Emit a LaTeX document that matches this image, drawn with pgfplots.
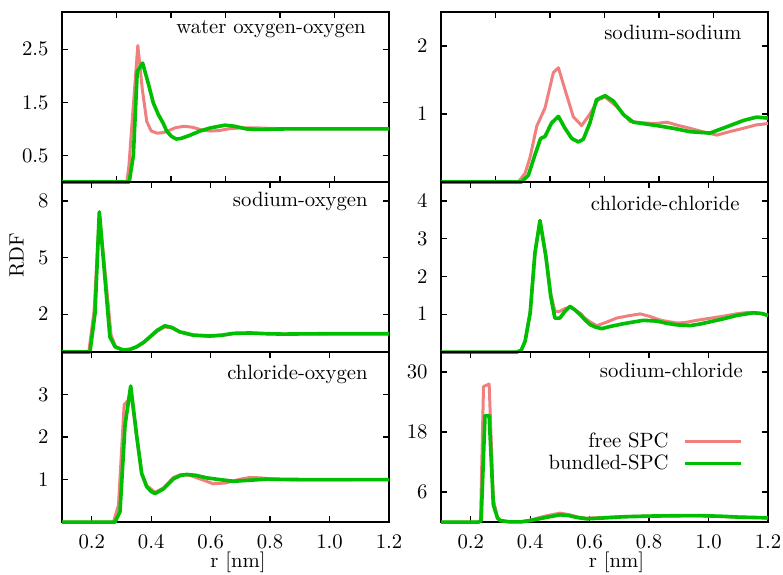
\documentclass[border=0pt]{standalone}
\usepackage{pgfplots}
\pgfplotsset{compat=1.18}
\usepgfplotslibrary{groupplots}
\usetikzlibrary{calc}
\definecolor{freered}{RGB}{240,128,128}
\definecolor{bundgreen}{RGB}{0,190,0}
\pgfplotsset{
  freestyle/.style={color=freered, line width=1.45pt, line join=round, mark=none},
  bundstyle/.style={color=bundgreen, line width=1.75pt, line join=round, mark=none},
}
\tikzset{paneltitle/.style={anchor=base east, inner sep=0pt}}
\begin{document}
\begin{tikzpicture}
\begin{groupplot}[
  group style={group size=2 by 3, horizontal sep=25.1pt, vertical sep=0pt},
  width=157.9pt, height=82.1pt, scale only axis,
  xmin=0.1, xmax=1.2, ymin=0, clip=false,
  axis line style={line width=0.7pt},
  tick style={line width=0.6pt, black},
  major tick length=2.8pt,
  tick align=inside,
  yticklabel style={xshift=-3pt},
  xticklabel style={yshift=-3pt, /pgf/number format/.cd, fixed, fixed zerofill, precision=1},
]
% ---------- row 1 left: water oxygen-oxygen
\nextgroupplot[ymax=3.2, ytick={0.5,1.5,2.5},
  yticklabel style={/pgf/number format/.cd, fixed, fixed zerofill, precision=1},
  xtick={0.283333,0.466667,0.65,0.833333,1.016667}, xticklabels={}]
\addplot[freestyle] coordinates {(0.1,0) (0.318,0) (0.325,0.3) (0.338,1.3) (0.355,2.57) (0.37,1.75) (0.385,1.14) (0.4,0.96) (0.42,0.92) (0.44,0.93) (0.46,0.97) (0.48,1.02) (0.51,1.05) (0.54,1.03) (0.57,0.98) (0.6,0.96) (0.63,0.97) (0.66,1.0) (0.7,1.02) (0.75,1.02) (0.8,1.01) (0.9,1.0) (1.2,1.0)};
\addplot[bundstyle] coordinates {(0.1,0) (0.326,0) (0.34,0.5) (0.353,2.08) (0.371,2.24) (0.39,1.86) (0.407,1.49) (0.424,1.27) (0.44,1.11) (0.452,0.96) (0.468,0.86) (0.484,0.81) (0.5,0.82) (0.53,0.88) (0.564,0.96) (0.6,1.02) (0.648,1.07) (0.68,1.05) (0.72,1.0) (0.76,0.99) (0.85,1.0) (1.2,1.0)};
\node[paneltitle] at (rel axis cs:0.93,0.876) {water oxygen-oxygen};
% ---------- row 1 right: sodium-sodium
\nextgroupplot[ymax=2.5, ytick={1,2},
  xtick={0.283333,0.466667,0.65,0.833333,1.016667}, xticklabels={}]
\addplot[freestyle] coordinates {(0.1,0) (0.36,0) (0.383,0.13) (0.4,0.37) (0.422,0.82) (0.45,1.09) (0.478,1.61) (0.495,1.68) (0.517,1.36) (0.545,0.96) (0.573,0.83) (0.601,1.0) (0.629,1.21) (0.652,1.25) (0.691,1.11) (0.736,0.89) (0.781,0.87) (0.82,0.86) (0.86,0.88) (0.9,0.83) (0.938,0.79) (0.98,0.74) (1.028,0.69) (1.07,0.74) (1.117,0.79) (1.16,0.84) (1.2,0.86)};
\addplot[bundstyle] coordinates {(0.1,0) (0.37,0) (0.394,0.1) (0.416,0.4) (0.435,0.64) (0.45,0.67) (0.472,0.87) (0.495,0.965) (0.517,0.79) (0.54,0.64) (0.562,0.59) (0.579,0.63) (0.601,0.87) (0.623,1.21) (0.652,1.27) (0.68,1.19) (0.714,0.99) (0.747,0.88) (0.826,0.83) (0.882,0.79) (0.938,0.74) (1.005,0.72) (1.072,0.83) (1.117,0.905) (1.162,0.955) (1.2,0.94)};
\node[paneltitle] at (rel axis cs:0.92,0.84) {sodium-sodium};
% ---------- row 2 left: sodium-oxygen
\nextgroupplot[ymax=9, ytick={2,5,8},
  xtick={0.2,0.4,0.6,0.8,1.0,1.2}, xticklabels={}, xtick pos=right,
  ylabel={RDF}, ylabel style={at={(axis description cs:-0.138,0.57)}, anchor=center}]
\addplot[freestyle] coordinates {(0.1,0) (0.19,0) (0.208,2.2) (0.2255,7.3) (0.247,3.9) (0.265,0.9) (0.28,0.3) (0.306,0.1) (0.33,0.14) (0.351,0.27) (0.375,0.5) (0.396,0.78) (0.42,1.1) (0.446,1.33) (0.47,1.27) (0.496,1.05) (0.541,0.88) (0.597,0.83) (0.64,0.88) (0.676,0.97) (0.732,1.0) (0.79,0.97) (0.845,0.95) (0.9,0.96) (1.0,0.97) (1.2,0.97)};
\addplot[bundstyle] coordinates {(0.1,0) (0.194,0) (0.211,2.05) (0.2255,7.42) (0.245,3.8) (0.261,0.81) (0.278,0.28) (0.306,0.1) (0.33,0.15) (0.351,0.28) (0.375,0.52) (0.396,0.81) (0.42,1.15) (0.446,1.39) (0.47,1.3) (0.496,1.07) (0.541,0.9) (0.597,0.85) (0.64,0.9) (0.676,0.99) (0.732,1.01) (0.79,0.97) (0.845,0.95) (0.9,0.96) (1.0,0.97) (1.2,0.97)};
\node[paneltitle] at (rel axis cs:0.936,0.859) {sodium-oxygen};
% ---------- row 2 right: chloride-chloride
\nextgroupplot[ymax=4.5, ytick={1,2,3,4},
  xtick={0.2,0.4,0.6,0.8,1.0,1.2}, xticklabels={}, xtick pos=right]
\addplot[freestyle] coordinates {(0.1,0) (0.355,0) (0.37,0.05) (0.383,0.29) (0.4,1.04) (0.416,2.62) (0.433,3.48) (0.453,2.52) (0.469,1.55) (0.483,1.08) (0.5,1.08) (0.517,1.15) (0.534,1.19) (0.55,1.12) (0.568,1.03) (0.584,0.9) (0.601,0.8) (0.624,0.7) (0.65,0.77) (0.691,0.9) (0.73,0.96) (0.77,1.01) (0.8,0.95) (0.84,0.84) (0.893,0.77) (0.92,0.78) (0.96,0.84) (1.05,0.95) (1.1,1.02) (1.134,1.05) (1.17,1.03) (1.2,0.97)};
\addplot[bundstyle] coordinates {(0.1,0) (0.355,0) (0.37,0.05) (0.383,0.29) (0.4,1.04) (0.416,2.62) (0.433,3.48) (0.453,2.52) (0.469,1.48) (0.483,0.9) (0.5,0.9) (0.517,1.08) (0.534,1.21) (0.55,1.12) (0.568,0.99) (0.585,0.85) (0.601,0.73) (0.62,0.66) (0.641,0.62) (0.67,0.68) (0.714,0.75) (0.75,0.8) (0.781,0.84) (0.826,0.82) (0.86,0.76) (0.893,0.72) (0.938,0.7) (0.97,0.74) (1.005,0.8) (1.05,0.88) (1.095,0.97) (1.151,1.04) (1.18,1.02) (1.2,0.97)};
\node[paneltitle] at (rel axis cs:0.914,0.835) {chloride-chloride};
% ---------- row 3 left: chloride-oxygen
\nextgroupplot[ymax=4, ytick={1,2,3},
  xtick={0.2,0.4,0.6,0.8,1.0,1.2},
  xlabel={r [nm]}, xlabel style={at={(axis description cs:0.538,-0.235)}, anchor=center}]
\addplot[freestyle] coordinates {(0.1,0) (0.273,0) (0.29,0.4) (0.309,2.76) (0.323,2.87) (0.334,2.94) (0.351,2.0) (0.368,1.15) (0.385,0.86) (0.413,0.7) (0.441,0.8) (0.475,1.05) (0.5,1.12) (0.53,1.1) (0.57,1.0) (0.609,0.9) (0.65,0.92) (0.7,1.01) (0.732,1.05) (0.77,1.04) (0.82,1.0) (0.9,0.99) (1.2,1.0)};
\addplot[bundstyle] coordinates {(0.1,0) (0.278,0) (0.295,0.24) (0.312,2.28) (0.331,3.2) (0.351,2.04) (0.368,1.14) (0.385,0.83) (0.4,0.72) (0.413,0.67) (0.441,0.78) (0.475,1.02) (0.5,1.1) (0.52,1.12) (0.55,1.1) (0.587,1.04) (0.63,1.0) (0.677,0.96) (0.72,0.98) (0.789,1.01) (0.9,1.0) (1.2,1.0)};
\node[paneltitle] at (rel axis cs:0.936,0.84) {chloride-oxygen};
% ---------- row 3 right: sodium-chloride
\nextgroupplot[ymax=34, ytick={6,18,30},
  xtick={0.2,0.4,0.6,0.8,1.0,1.2},
  xlabel={r [nm]}, xlabel style={at={(axis description cs:0.537,-0.235)}, anchor=center},
  legend cell align=right, legend plot pos=right,
  legend image code/.code={\path (0pt,0pt); \draw[#1] (5pt,0pt) -- (32pt,0pt);},
  legend style={draw=none, fill=none, at={(rel axis cs:0.943,0.409)}, anchor=east, row sep=-2pt}]
\addplot[freestyle] coordinates {(0.1,0) (0.226,0) (0.233,0.3) (0.243,27.1) (0.262,27.6) (0.276,4.5) (0.29,0.9) (0.3,0.3) (0.33,0.05) (0.37,0.05) (0.4,0.4) (0.45,1.2) (0.5,1.8) (0.53,1.5) (0.56,1.0) (0.59,0.8) (0.64,0.9) (0.713,1.1) (0.8,1.2) (0.9,1.25) (0.971,1.25) (1.05,1.1) (1.1,1.0) (1.2,0.85)};
\addlegendentry{free SPC}
\addplot[bundstyle] coordinates {(0.1,0) (0.226,0) (0.235,0.3) (0.248,21.3) (0.262,21.3) (0.276,3.5) (0.29,0.8) (0.3,0.3) (0.33,0.05) (0.37,0.05) (0.4,0.3) (0.45,0.9) (0.5,1.45) (0.53,1.3) (0.56,0.9) (0.59,0.65) (0.64,0.8) (0.713,1.06) (0.8,1.2) (0.9,1.28) (0.971,1.3) (1.05,1.15) (1.1,1.0) (1.2,0.85)};
\addlegendentry{bundled-SPC}
\node[paneltitle] at (rel axis cs:0.924,0.849) {sodium-chloride};
\end{groupplot}
\pgfresetboundingbox
\path[use as bounding box] ($(group c1r1.north west)+(-29.95pt,5.8pt)$) rectangle ($(group c2r3.south east)+(7.25pt,-25.1pt)$);
\end{tikzpicture}
\end{document}
